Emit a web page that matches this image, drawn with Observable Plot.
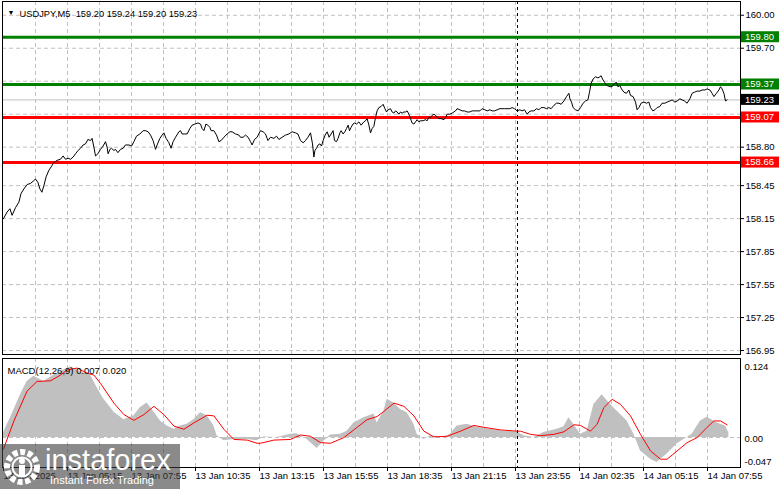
<!DOCTYPE html>
<html><head><meta charset="utf-8">
<script src="https://cdn.jsdelivr.net/npm/d3@7"></script>
<script src="https://cdn.jsdelivr.net/npm/@observablehq/plot@0.6"></script>
<style>
html,body{margin:0;padding:0;background:#fff;}
#wrap{position:relative;width:781px;height:489px;overflow:hidden;font-family:"Liberation Sans",Arial,sans-serif;}
#main{position:absolute;left:0;top:0;}
#macd{position:absolute;left:0;top:356px;}
#wm{position:absolute;left:0;top:444px;width:180px;height:45px;background:rgba(60,60,60,0.6);}
#wm .big{position:absolute;left:45px;top:0px;color:#fff;font-size:29px;line-height:32px;white-space:nowrap;}
#wm .small{position:absolute;left:50px;top:30px;color:#fff;font-size:11px;line-height:13px;white-space:nowrap;}
svg{overflow:visible;}
</style></head>
<body><div id="wrap"><div id="main"></div><div id="macd"></div>
<div id="wm"><svg width="44" height="45" style="position:absolute;left:1px;top:0">
<circle cx="21" cy="23" r="15" fill="none" stroke="#fff" stroke-width="6" stroke-dasharray="5 2.6"/>
<circle cx="21" cy="23" r="9.5" fill="none" stroke="#fff" stroke-width="2"/>
<circle cx="21" cy="17" r="3" fill="#fff"/>
<rect x="18" y="21" width="6" height="11" fill="#fff"/>
</svg><div class="big">instaforex</div><div class="small">Instant Forex Trading</div></div>
</div>
<script>
// ---- time axis (bar index, 5-minute bars starting 13 Jan 02:35) ----
const tickBars = [0, 32, 64, 96, 128, 160, 192, 224, 256, 288, 320, 352];
const tickLabels = ["13 Jan 2026", "13 Jan 05:15", "13 Jan 07:55", "13 Jan 10:35", "13 Jan 13:15", "13 Jan 15:55",
  "13 Jan 18:35", "13 Jan 21:15", "13 Jan 23:55", "14 Jan 02:35", "14 Jan 05:15", "14 Jan 07:55"];
const gridBars = [16, 32, 48, 64, 80, 96, 112, 128, 144, 160, 176, 192, 208, 224, 240, 256, 272, 288, 304, 320, 336, 352];
const daySeparator = [257];

// ---- price axis ----
const priceTicks = [160.00, 159.70, 158.80, 158.45, 158.15, 157.85, 157.55, 157.25, 156.95];
const priceGrid = [160.00, 159.70, 159.40, 159.10, 158.80, 158.45, 158.15, 157.85, 157.55, 157.25, 156.95];

// ---- horizontal levels ----
const levelValues = [159.80, 159.37, 159.07, 158.66];
const levelColors = ["#008000", "#008000", "#ff0000", "#ff0000"];
const bidValue = [159.23];

const titleText = "USDJPY,M5\u00a0\u00a0159.20 159.24 159.20 159.23";
const macdTitle = "MACD(12,26,9) 0.007 0.020";

// ---- close prices (bar index, close) ----
const priceBars = [
0,1.8,3.2,4.3,6,7.7,8.8,10.2,11.8,13.5,14.8,16,17.2,18.2,19.2,20.2,21.3,22.7,23.8,25.2,26.8,28.5,29.8,31,32.3,33.5,34.8,36,37.3,38.5,39.8,41,42.2,43.5,44.3,45.2,46,47.2,48.5,49.8,51,51.8,52.3,53.2,54,55.2,56,57.2,58.5,59.8,61,62.7,64,65.2,66.5,68.2,69.8,71,72.3,73.5,74.8,76,76.8,78.2,79.3,80.2,81.3,82.7,83.8,84.8,86,87.7,88.5,89.3,90.5,91.8,93.2,94.3,95.7,97.3,98.5,99.3,100.2,101.2,102.2,103.2,103.8,105.2,106.5,107.7,108.8,110.2,111.8,113.2,114.3,116,117.7,118.5,119.8,121,122.3,123.5,124.3,125.5,126.8,
128.5,129.8,131,132.2,133.5,135.2,136.5,137.7,139.3,141,142.7,144.3,146,147.2,148.5,149.8,151,152.2,153.5,154.5,155.2,155.7,156.5,157.3,158.2,159,159.8,160.8,161.8,162.8,163.8,164.8,165.5,166.5,167.3,168.2,168.8,169.8,170.7,171.5,172.3,173,173.8,174.7,175.5,176.5,177.7,178.8,180.2,181,181.8,182.7,183.5,184.3,185.2,186,186.8,187.7,188.8,189.8,190.7,191.5,192.3,193.5,194.3,195.2,196,196.8,197.7,198.5,199.3,200.2,201,201.8,202.7,203.5,204.3,205.2,206,206.8,207.7,208.5,209.8,211,211.8,212.7,213.5,214.3,215.2,216,216.8,217.7,218.8,220.2,221,221.8,223.2,224.3,225.2,226,226.8,228.2,229.3,230.5,231.8,233.2,234.3,235.5,236.8,238.2,239.3,240.7,241.8,243.2,244.3,245.5,246.8,248.2,249.3,250.5,251.8,253.2,254.3,255.5,256.8,258.2,
259.3,260.5,261.8,262.7,263.8,265.2,266.5,267.7,268.8,270.2,271.5,272.7,273.8,275.2,276.5,277.7,278.8,280.2,281.5,282.7,283.2,284,284.8,286,287.3,288.5,289.8,291,292.2,293,293.8,294.8,296,297.2,298.2,298.8,299.5,300.5,301.8,303.2,304.3,305.5,306.5,307.2,308.2,309,310.2,311.5,312.7,313.5,314.8,316,316.8,317.7,318.8,320.2,321.5,322.7,323.5,324.7,325.7,326.8,328.2,329.3,330.7,331.8,333.2,334.3,335.7,336.8,338.2,339.3,340.5,341.8,343.2,344.3,345.5,346.8,348.2,349.3,350.7,351.8,353.2,354.3,355.2,356.5,357.7,358.5,359.3,360.2,361,361.8];
const priceClose = [
158.15,158.21,158.24,158.18,158.25,158.30,158.38,158.42,158.46,158.47,158.49,158.51,158.48,158.42,158.39,158.45,158.53,158.59,158.62,158.66,158.68,158.69,158.72,158.69,158.70,158.69,158.71,158.74,158.77,158.79,158.82,158.83,158.87,158.86,158.88,158.80,158.72,158.74,158.78,158.81,158.85,158.80,158.74,158.78,158.79,158.77,158.78,158.75,158.78,158.79,158.82,158.82,158.81,158.85,158.90,158.92,158.95,158.95,158.94,158.91,158.86,158.78,158.82,158.88,158.91,158.93,158.88,158.84,158.79,158.85,158.89,158.94,158.95,158.92,158.92,158.92,158.97,159.00,159.01,159.02,159.01,158.97,158.95,159.01,159.00,158.98,158.95,158.95,158.91,158.85,158.86,158.89,158.92,158.94,158.94,158.92,158.91,158.89,158.89,158.91,158.89,158.85,158.82,158.87,158.89,
158.95,158.94,158.92,158.86,158.89,158.88,158.90,158.87,158.89,158.91,158.92,158.94,158.93,158.92,158.86,158.84,158.86,158.89,158.93,158.83,158.71,158.77,158.79,158.82,158.83,158.81,158.86,158.91,158.94,158.89,158.92,158.95,158.86,158.85,158.88,158.93,158.95,158.92,158.94,158.97,159.00,158.95,158.98,159.01,159.02,159.01,159.03,159.00,159.03,159.04,159.06,159.00,158.93,158.97,158.99,159.07,159.13,159.16,159.17,159.19,159.15,159.12,159.14,159.15,159.12,159.11,159.13,159.12,159.10,159.12,159.11,159.12,159.12,159.13,159.10,159.06,159.02,159.01,159.03,159.05,159.03,159.04,159.04,159.05,159.04,159.07,159.07,159.09,159.10,159.09,159.07,159.06,159.06,159.05,159.07,159.10,159.10,159.11,159.12,159.13,159.15,159.14,159.13,159.13,159.12,159.12,159.13,159.13,159.13,159.13,159.15,159.14,159.13,159.14,159.13,159.13,159.14,159.15,159.15,159.15,159.15,159.15,159.16,159.15,159.13,159.14,
159.13,159.14,159.10,159.12,159.13,159.13,159.15,159.14,159.16,159.16,159.15,159.16,159.15,159.18,159.20,159.20,159.19,159.22,159.26,159.29,159.24,159.21,159.16,159.14,159.13,159.16,159.20,159.22,159.23,159.30,159.38,159.42,159.44,159.43,159.44,159.45,159.42,159.39,159.36,159.35,159.35,159.38,159.39,159.35,159.36,159.33,159.30,159.29,159.32,159.27,159.26,159.21,159.14,159.16,159.20,159.21,159.20,159.21,159.16,159.13,159.14,159.16,159.17,159.20,159.20,159.21,159.22,159.23,159.21,159.22,159.24,159.23,159.22,159.20,159.24,159.29,159.30,159.31,159.31,159.32,159.32,159.33,159.32,159.29,159.26,159.29,159.32,159.35,159.33,159.29,159.22,159.23];

// ---- MACD histogram (main line) ----
const histBars = [
0,3.5,8.5,11.8,15.2,20.2,25.2,30.2,33.5,36.8,40.2,43.5,46.8,50.2,55.2,60.2,65.2,68.5,71.8,75.2,78.5,81.8,85.2,88.5,91.8,95.2,98.5,101.8,105.2,106.8,110.2,115.2,121.8,
126.8,130.2,136.8,143.5,146.8,151.8,156.8,160.2,163.5,168.5,171.8,175.2,180.2,185.2,186.8,190.2,191.8,195.2,198.5,201.8,205.2,206.8,210.2,213.5,220.2,223.5,226.8,231.8,236.8,243.5,250.2,256.8,
260.2,265.2,270.2,276.8,280.2,282.7,285.2,288.5,291.8,295.2,299.3,303.5,308.5,311.8,315.2,318.5,323.5,326.8,331.8,336.8,340.2,344.3,348.5,351.8,356.8,361,362.7];
const histValues = [
0.008,0.031,0.067,0.088,0.096,0.088,0.098,0.106,0.111,0.106,0.101,0.098,0.078,0.060,0.040,0.028,0.034,0.047,0.054,0.040,0.026,0.018,0.013,0.018,0.021,0.028,0.039,0.034,0.018,0.003,-0.005,-0.003,-0.003,
-0.005,0.001,0.000,0.005,0.006,-0.003,-0.017,-0.006,0.004,0.005,0.010,0.023,0.031,0.037,0.023,0.041,0.060,0.054,0.044,0.039,0.021,0.005,-0.003,0.003,0.000,0.005,0.018,0.021,0.016,0.013,0.010,0.009,
0.003,0.000,0.008,0.013,0.017,0.031,0.020,0.005,0.010,0.052,0.067,0.052,0.036,0.026,0.005,-0.021,-0.034,-0.039,-0.026,-0.010,-0.003,0.005,0.026,0.032,0.023,0.018,0.007];

// ---- MACD signal line ----
const signalBars = [
0,5.2,11.8,16.8,23.5,28.5,31.8,36.8,41.8,45.2,48.5,55.2,60.2,65.2,70.2,75.2,80.2,85.2,90.2,95.2,101.8,105.2,110.2,115.2,121.8,126.8,
128.5,135.2,143.5,148.5,153.5,158.5,163.5,170.2,176.8,181.8,186.8,190.2,195.2,200.2,205.2,210.2,215.2,221.8,228.5,235.2,240.2,248.5,256.8,
258.5,263.5,268.5,275.2,280.2,285.2,288.5,293.5,296.8,300.2,304.3,308.5,313.5,318.5,323.5,328.5,331.8,336.8,341.8,346.8,351.8,355.2,358.5,361.8];
const signalValues = [
-0.018,0.026,0.073,0.088,0.089,0.098,0.106,0.109,0.101,0.098,0.085,0.054,0.036,0.027,0.036,0.049,0.036,0.018,0.013,0.023,0.035,0.034,0.013,-0.003,-0.004,-0.009,
-0.009,-0.004,-0.003,0.004,0.002,-0.008,-0.009,0.000,0.016,0.028,0.033,0.041,0.054,0.049,0.034,0.010,0.001,0.002,0.010,0.019,0.016,0.012,0.010,
0.010,0.005,0.003,0.005,0.009,0.020,0.019,0.010,0.021,0.047,0.060,0.052,0.034,0.005,-0.021,-0.034,-0.034,-0.021,-0.008,0.000,0.016,0.026,0.026,0.020];

const macdTickValues = [0.124, 0, -0.047];
const macdTickLabels = ["0.124", "0.00", "-0.047"];

// ---------- build tables ----------
const zip = (a, b) => a.slice(0, Math.min(a.length, b.length)).map((x, i) => ({bar: x, v: b[i]}));
const price = zip(priceBars, priceClose);
const hist = zip(histBars, histValues);
const signal = zip(signalBars, signalValues);
const xDomain = [-0.5, 368.5];
const FONT = "'Liberation Sans', Arial, sans-serif";
const FS = 9.5;
const grid = {stroke: "#c0c0c0", strokeDasharray: "4,3", strokeWidth: 1};

function levelLabels(index, scales, values, dims) {
  const g = d3.create("svg:g").attr("font-family", FONT).attr("font-size", FS).attr("text-anchor", "start");
  const x0 = dims.width - dims.marginRight + 1;
  const items = levelValues.map((v, i) => ({v, c: levelColors[i]})).concat(bidValue.map(v => ({v, c: "#000"})));
  for (const it of items) {
    const y = scales.y(it.v);
    g.append("rect").attr("x", x0).attr("y", y - 5.5).attr("width", 38).attr("height", 11).attr("fill", it.c);
    g.append("text").attr("x", x0 + 4).attr("y", y).attr("dy", "0.35em").attr("text-anchor", "start")
      .attr("fill", "#fff").text(it.v.toFixed(2));
  }
  return g.node();
}

const mainChart = Plot.plot({
  width: 781, height: 356,
  marginLeft: 2, marginRight: 41, marginTop: 1, marginBottom: 2,
  style: {fontFamily: FONT, fontSize: FS + "px", background: "transparent", color: "#000"},
  x: {domain: xDomain, axis: null},
  y: {domain: [156.914, 160.125], axis: null},
  marks: [
    Plot.ruleY(priceGrid, grid),
    Plot.ruleX(gridBars, grid),
    Plot.ruleX(daySeparator, {stroke: "#000", strokeDasharray: "3,3"}),
    Plot.ruleY(bidValue, {stroke: "#c0c0c0", strokeWidth: 1}),
    Plot.ruleY(levelValues, {stroke: (d, i) => levelColors[i], strokeWidth: 3}),
    Plot.line(price, {x: "bar", y: "v", stroke: "#000", strokeWidth: 1}),
    Plot.frame({stroke: "#000"}),
    Plot.axisY(priceTicks, {anchor: "right", tickSize: 3, tickPadding: 2, tickFormat: d => d.toFixed(2), label: null, fontSize: FS}),
    levelLabels,
    Plot.text(["\u25BC"], {frameAnchor: "top-left", dx: 5, dy: 9, fontSize: 7, textAnchor: "start"}),
    Plot.text([titleText], {frameAnchor: "top-left", dx: 17, dy: 9, fontSize: 9.3, textAnchor: "start", fill: "#000"})
  ]
});
document.getElementById("main").append(mainChart);

const macdChart = Plot.plot({
  width: 781, height: 133,
  marginLeft: 2, marginRight: 41, marginTop: 2, marginBottom: 22,
  style: {fontFamily: FONT, fontSize: FS + "px", background: "transparent", color: "#000"},
  x: {domain: xDomain, axis: null},
  y: {domain: [-0.047, 0.124], axis: null},
  marks: [
    Plot.ruleX(gridBars, grid),
    Plot.ruleY([0], grid),
    Plot.areaY(hist, {x: "bar", y: "v", fill: "#c0c0c0"}),
    Plot.line(signal, {x: "bar", y: "v", stroke: "#ff0000", strokeWidth: 1}),
    Plot.ruleX(daySeparator, {stroke: "#000", strokeDasharray: "3,3"}),
    Plot.frame({stroke: "#000"}),
    Plot.axisX(tickBars, {anchor: "bottom", tickSize: 4, tickFormat: () => "", label: null}),
    Plot.text(tickBars, {x: d => d, text: (d, i) => tickLabels[i], frameAnchor: "bottom", textAnchor: "start", dy: 11, fontSize: FS}),
    Plot.text([macdTickValues[0]], {y: d => d, text: () => macdTickLabels[0], frameAnchor: "right", textAnchor: "start", dx: 4, dy: 8, fontSize: FS}),
    Plot.text([macdTickValues[1]], {y: d => d, text: () => macdTickLabels[1], frameAnchor: "right", textAnchor: "start", dx: 4, dy: 1, fontSize: FS}),
    Plot.text([macdTickValues[2]], {y: d => d, text: () => macdTickLabels[2], frameAnchor: "right", textAnchor: "start", dx: 4, dy: -6, fontSize: FS}),
    Plot.text([macdTitle], {frameAnchor: "top-left", dx: 5, dy: 9, fontSize: FS, textAnchor: "start"})
  ]
});
document.getElementById("macd").append(macdChart);
</script></body></html>
